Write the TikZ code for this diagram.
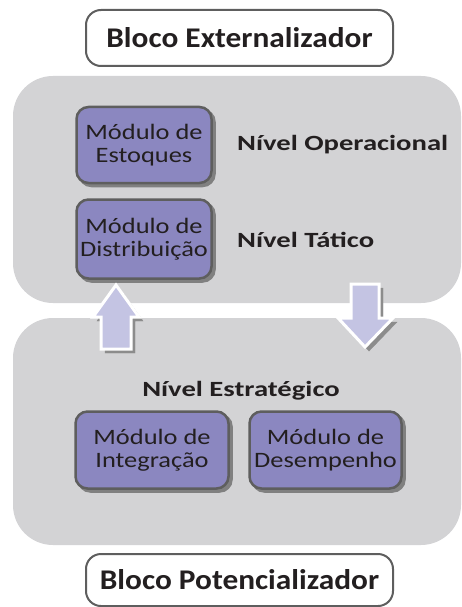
\documentclass[tikz,border=0pt]{standalone}
\usepackage{fontspec}
\setmainfont{Carlito}
\newfontfamily\fbloco[FakeStretch=1.1]{Carlito}
\newfontfamily\fnivel[FakeStretch=1.32]{Carlito}
\newfontfamily\fmodulo[FakeStretch=1.2]{Carlito}
\usetikzlibrary{shadows}

\definecolor{fundo}{HTML}{D3D3D5}
\definecolor{roxo}{HTML}{8B87C0}
\definecolor{borda}{HTML}{5E5E5E}
\definecolor{lilas}{HTML}{C4C4E3}
\definecolor{texto}{HTML}{231F20}

\tikzset{
	bloco/.style={draw=borda, line width=2pt, fill=white, rounded corners=15pt,
		minimum width=307pt, text=texto, font=\fbloco\bfseries\fontsize{28.5}{30}\selectfont},
	regiao/.style={fill=fundo, rounded corners=40pt},
	modulo/.style={draw=borda, line width=2.5pt, fill=roxo, rounded corners=12pt,
		align=center, inner sep=0pt, text=texto, font=\fmodulo\fontsize{22}{22.5}\selectfont,
		general shadow={fill=black!50, draw=black!50, shadow xshift=3pt, shadow yshift=-3pt}},
	nivel/.style={inner sep=0pt, text=texto, font=\fnivel\bfseries\fontsize{21.7}{24}\selectfont},
	seta/.style={fill=lilas, draw=white, line width=3pt, line join=miter,
		general shadow={fill=black!45, draw=black!45, shadow xshift=4pt, shadow yshift=-4pt}},
}

\begin{document}
\begin{tikzpicture}[x=1pt, y=-1pt]

	\useasboundingbox (0,0) rectangle (461,607);

	% regioes
	\fill[regiao] (13,76) rectangle (461,303);
	\fill[regiao] (13,318) rectangle (461,545);

	% blocos
	\node[bloco, minimum height=56pt] (externo) at (239.5,38) {Bloco Externalizador};
	\node[bloco, minimum height=52pt] (potencial) at (239.5,580) {Bloco Potencializador};

	% modulos
	\node[modulo, minimum width=135pt, minimum height=76pt] (estoques) at (144,145) {Módulo de\\Estoques};
	\node[modulo, minimum width=135pt, minimum height=79pt] (distrib) at (144,239) {Módulo de\\Distribuição};
	\node[modulo, minimum width=153pt, minimum height=77pt] (integra) at (152,450) {Módulo de\\Integração};
	\node[modulo, minimum width=152pt, minimum height=77pt] (desemp) at (325.5,450) {Módulo de\\Desempenho};

	% niveis
	\node[nivel, anchor=base west] (operac) at (237,150) {Nível Operacional};
	\node[nivel, anchor=base west] (tatico) at (237,247) {Nível Tático};
	\node[nivel, anchor=base] (estrat) at (241,396) {Nível Estratégico};

	% setas
	\coordinate (sobe) at (116,349);
	\coordinate (desce) at (365,284);
	\draw[seta] (sobe) ++(-15,0) -- ++(0,-32) -- ++(-8,0) -- (116,285)
		-- (139,317) -- (131,317) -- (131,349) -- cycle;
	\draw[seta] (desce) ++(-14,0) -- ++(0,34) -- ++(-13,0) -- (365,347)
		-- (393,318) -- (379,318) -- (379,284) -- cycle;

\end{tikzpicture}
\end{document}
